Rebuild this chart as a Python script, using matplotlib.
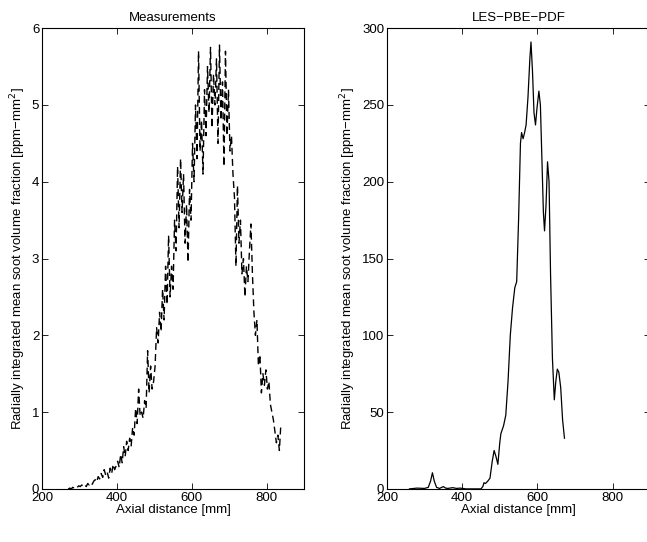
import numpy as np
import matplotlib
matplotlib.use("Agg")
import matplotlib.pyplot as plt

plt.rcParams['font.family'] = ['Liberation Sans', 'DejaVu Sans']
plt.rcParams['font.size'] = 9.5

# measurements, every 4 mm from 270 to 838 mm (jagged experimental trace)
meas = [0.0, 0.01, 0.0, 0.02, 0.01, 0.03, 0.02, 0.04, 0.03, 0.05, 0.04, 0.06, 0.03, 0.07, 0.05, 0.08, 0.06, 0.10,
        0.12, 0.09, 0.16, 0.13, 0.20, 0.15, 0.25, 0.18, 0.22, 0.14, 0.27, 0.20, 0.32, 0.25, 0.30,
        0.36, 0.28, 0.45, 0.34, 0.55, 0.42, 0.62, 0.50, 0.66, 0.56, 0.80, 0.70,
        1.05, 0.85, 1.30, 0.95, 1.00, 0.92, 1.15, 1.05, 1.80, 1.25, 1.60, 1.30, 1.40,
        1.60, 2.10, 1.90, 2.30, 2.05, 2.60, 2.20, 2.90, 2.40, 3.30, 2.50, 2.90,
        2.60, 3.50, 3.10, 4.20, 3.40, 4.30, 3.60, 4.10, 3.20, 3.70, 2.95, 3.90, 3.50,
        4.50, 4.00, 5.00, 4.30, 5.70, 4.40, 4.80, 4.10, 5.20, 4.60, 5.50, 4.90,
        5.75, 4.70, 5.40, 5.00, 5.60, 4.50, 5.78, 4.80, 5.30, 4.20, 5.70, 4.60, 5.20,
        4.40, 4.60, 4.10, 3.80, 2.90, 3.95, 3.20, 3.50, 2.80, 3.00, 2.50, 2.90,
        2.70, 3.10, 3.45, 2.80, 2.30, 2.00, 2.20, 1.60, 1.75, 1.25, 1.50, 1.35, 1.55,
        1.30, 1.40, 1.10, 1.00, 0.90, 0.75, 0.60, 0.70, 0.50, 0.85]
meas_x = np.linspace(270, 838, len(meas))

# LES-PBE-PDF result
les_x = [260, 280, 300, 310, 316, 321, 326, 332, 340, 350, 356, 362, 375, 385, 395, 410, 430, 450, 455, 458,
         462, 468, 474, 480, 485, 490, 495, 500, 503, 510, 516, 522, 528, 534, 540, 545, 550, 555, 558,
         562, 566, 570, 575, 580, 583, 587, 591, 595, 599, 604, 608, 612, 616, 619, 623, 627, 631, 635,
         640, 645, 649, 653, 657, 662, 667, 672]
les_y = [0.0, 0.5, 0.3, 1.0, 5.0, 10.5, 5.0, 1.0, 0.3, 1.5, 0.5, 0.3, 0.8, 0.3, 0.5, 0.0, 0.0, 0.0, 1.5, 4.0,
         3.5, 5.0, 7.0, 18.0, 25.0, 21.0, 16.0, 30.0, 36.0, 41.0, 48.0, 70.0, 100.0, 118.0, 131.0, 135.0, 175.0, 225.0, 232.0,
         228.0, 232.0, 237.0, 255.0, 280.0, 291.0, 272.0, 245.0, 237.0, 248.0, 259.0, 250.0, 215.0, 180.0, 168.0, 185.0, 213.0, 200.0, 140.0,
         85.0, 58.0, 70.0, 78.0, 76.0, 66.0, 45.0, 33.0]


def style(ax):
    ax.set_xlim(200, 900)
    ax.set_xticks([200, 400, 600, 800])
    ax.tick_params(direction='in', top=True, right=True, length=4, width=0.6, pad=2)
    for s in ax.spines.values():
        s.set_linewidth(0.8)
    ax.set_xlabel('Axial distance [mm]', labelpad=0)
    ax.set_ylabel('Radially integrated mean soot volume fraction [ppm\u2212mm$^2$]', labelpad=3)


fig = plt.figure(figsize=(6.47, 5.42), dpi=100)
ax1 = fig.add_axes([0.065, 0.098, 0.405, 0.850])
ax2 = fig.add_axes([0.598, 0.098, 0.407, 0.850])

ax1.plot(meas_x, meas, color='black', linestyle='--', dashes=(5, 3), linewidth=1.0)
style(ax1)
ax1.set_ylim(0, 6)
ax1.set_title('Measurements', fontsize=9.5, pad=5)

ax2.plot(les_x, les_y, color='black', linewidth=0.9)
style(ax2)
ax2.set_ylim(0, 300)
ax2.set_title('LES\u2212PBE\u2212PDF', fontsize=9.5, pad=5)

fig.savefig('out.png', dpi=100)
